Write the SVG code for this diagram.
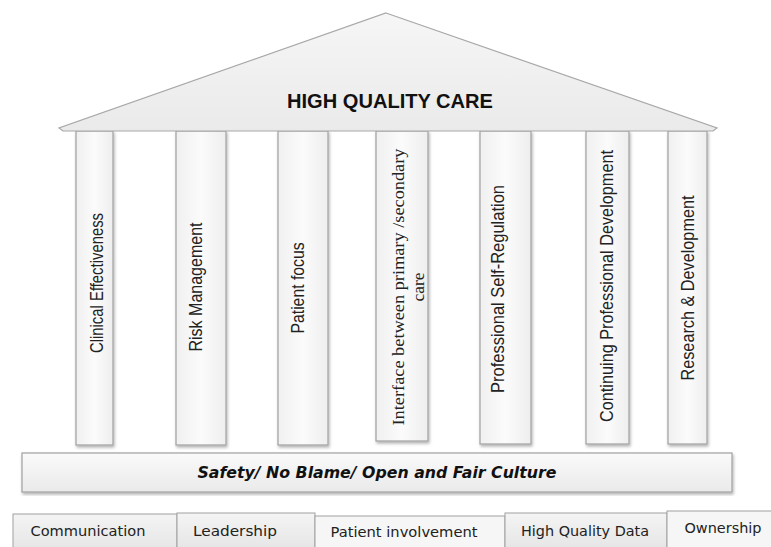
<svg xmlns="http://www.w3.org/2000/svg" width="771" height="547" viewBox="0 0 771 547">
<defs>
<linearGradient id="gRoof" x1="0" y1="0" x2="0" y2="1"><stop offset="0" stop-color="#f6f6f6"/><stop offset="1" stop-color="#eaeaea"/></linearGradient>
<linearGradient id="gPillar" x1="0" y1="0" x2="1" y2="0"><stop offset="0" stop-color="#f0f0f0"/><stop offset="0.5" stop-color="#fbfbfb"/><stop offset="1" stop-color="#eeeeee"/></linearGradient>
<linearGradient id="gBase" x1="0" y1="0" x2="0" y2="1"><stop offset="0" stop-color="#fafafa"/><stop offset="1" stop-color="#eaeaea"/></linearGradient>
<linearGradient id="gTab" x1="0" y1="0" x2="0" y2="1"><stop offset="0" stop-color="#f4f4f4"/><stop offset="1" stop-color="#e4e4e4"/></linearGradient>
<filter id="sh" x="-20%" y="-5%" width="140%" height="115%"><feDropShadow dx="1" dy="2" stdDeviation="1.5" flood-color="#000" flood-opacity="0.3"/></filter>
</defs>
<style>
.roof{fill:url(#gRoof);stroke:#a8a8a8;stroke-width:1.2}
.pillar{fill:url(#gPillar);stroke:#a0a0a0;stroke-width:1.2;filter:url(#sh)}
.base{fill:url(#gBase);stroke:#a0a0a0;stroke-width:1.2;filter:url(#sh)}
.tab{fill:url(#gTab);stroke:#a0a0a0;stroke-width:1}
.tabw{fill:#f6f6f6;stroke:#a0a0a0;stroke-width:1}
.pt{font-family:"Liberation Sans",Arial,sans-serif;font-size:17.5px;fill:#222;text-anchor:middle}
.ps{font-family:"Liberation Serif","Times New Roman",serif;font-size:17px;fill:#222;text-anchor:middle}
.ttl{font-family:"Liberation Sans",Arial,sans-serif;font-size:21px;font-weight:bold;fill:#111;text-anchor:middle;dominant-baseline:central}
.bt{font-family:"DejaVu Sans",Verdana,sans-serif;font-size:15px;font-weight:bold;font-style:italic;fill:#111;text-anchor:middle;dominant-baseline:central}
.tt{font-family:"DejaVu Sans",Verdana,sans-serif;font-size:14px;fill:#222;text-anchor:middle;dominant-baseline:central}
</style>
<rect width="771" height="547" fill="#fff"/>

<g id="pillar-clinical">
<rect class="pillar" x="76" y="131" width="37" height="314"/>
<text class="pt" transform="translate(103,283) rotate(-90)" textLength="140" lengthAdjust="spacingAndGlyphs">Clinical  Effectiveness</text>
</g>
<g id="pillar-risk">
<rect class="pillar" x="176" y="131" width="50" height="314"/>
<text class="pt" transform="translate(202,287) rotate(-90)" textLength="129" lengthAdjust="spacingAndGlyphs">Risk Management</text>
</g>
<g id="pillar-patient">
<rect class="pillar" x="278" y="131" width="50" height="314"/>
<text class="pt" transform="translate(304,288) rotate(-90)" textLength="91" lengthAdjust="spacingAndGlyphs">Patient focus</text>
</g>
<g id="pillar-interface">
<rect class="pillar" x="376" y="131" width="52" height="310"/>
<text class="ps" transform="translate(404,287) rotate(-90)" textLength="277" lengthAdjust="spacingAndGlyphs">Interface between primary /secondary</text>
<text class="ps" transform="translate(424,287) rotate(-90)" textLength="29" lengthAdjust="spacingAndGlyphs">care</text>
</g>
<g id="pillar-selfreg">
<rect class="pillar" x="480" y="131" width="51" height="313"/>
<text class="pt" transform="translate(504,289) rotate(-90)" textLength="208" lengthAdjust="spacingAndGlyphs">Professional  Self-Regulation</text>
</g>
<g id="pillar-cpd">
<rect class="pillar" x="586" y="131" width="43" height="313"/>
<text class="pt" transform="translate(613,286) rotate(-90)" textLength="272" lengthAdjust="spacingAndGlyphs">Continuing Professional  Development</text>
</g>
<g id="pillar-research">
<rect class="pillar" x="668" y="131" width="39" height="313"/>
<text class="pt" transform="translate(694,288) rotate(-90)" textLength="185" lengthAdjust="spacingAndGlyphs">Research &amp; Development</text>
</g>

<g id="roof">
<polygon class="roof" points="386,13 717,128 713,131 63,131 59,128"/>
<text class="ttl" x="390" y="100" textLength="206" lengthAdjust="spacingAndGlyphs">HIGH QUALITY CARE</text>
</g>

<g id="base">
<rect class="base" x="22" y="453" width="710" height="39"/>
<text class="bt" x="377" y="473" textLength="359" lengthAdjust="spacingAndGlyphs">Safety/ No Blame/ Open and Fair Culture</text>
</g>

<g id="tab-communication">
<rect class="tab" x="13" y="514" width="164" height="40"/>
<text class="tt" x="88" y="531" textLength="115" lengthAdjust="spacingAndGlyphs">Communication</text>
</g>
<g id="tab-leadership">
<rect class="tab" x="177" y="513" width="138" height="40"/>
<text class="tt" x="235" y="531" textLength="84" lengthAdjust="spacingAndGlyphs">Leadership</text>
</g>
<g id="tab-patient">
<rect class="tabw" x="315" y="516" width="190" height="40"/>
<text class="tt" x="404" y="532" textLength="147" lengthAdjust="spacingAndGlyphs">Patient involvement</text>
</g>
<g id="tab-data">
<rect class="tab" x="505" y="513" width="162" height="40"/>
<text class="tt" x="585" y="531" textLength="128" lengthAdjust="spacingAndGlyphs">High Quality Data</text>
</g>
<g id="tab-ownership">
<rect class="tabw" x="667" y="511" width="110" height="40"/>
<text class="tt" x="723" y="528" textLength="77" lengthAdjust="spacingAndGlyphs">Ownership</text>
</g>
</svg>
